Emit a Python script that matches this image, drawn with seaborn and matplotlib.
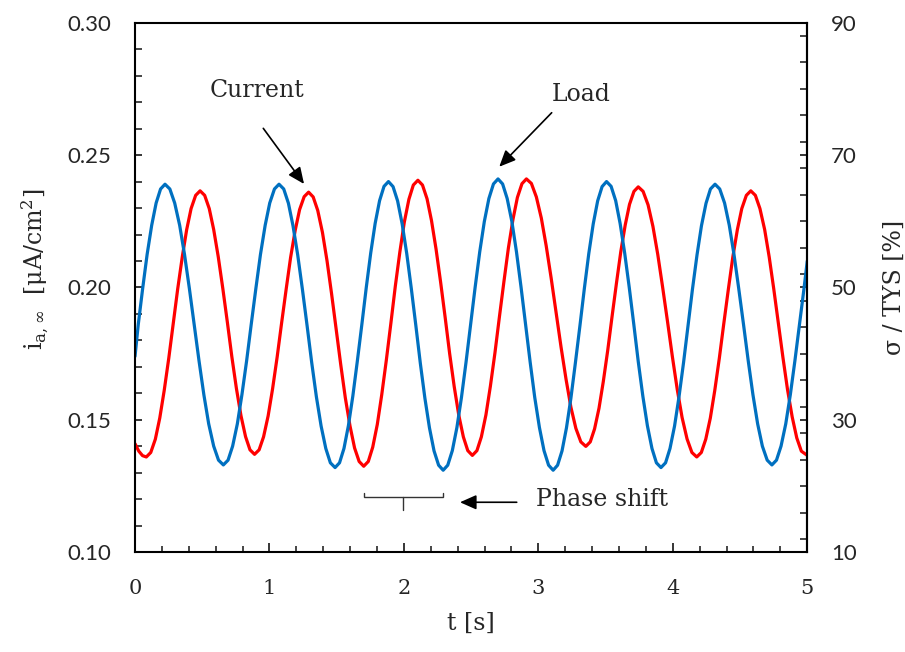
import matplotlib
matplotlib.use("Agg")
import matplotlib.pyplot as plt
from matplotlib.ticker import MultipleLocator, FixedLocator
import pandas as pd
import seaborn as sns

# ---------------- data ----------------
# Load signal (blue), plotted in the left-axis units (linked to sigma/TYS by the right axis)
load_t = [0.000, 0.024, 0.057, 0.090, 0.124, 0.157, 0.190,
          0.223, 0.259, 0.295, 0.332, 0.368, 0.404, 0.440, 0.476, 0.512, 0.548, 0.585, 0.621,
          0.657, 0.692, 0.726, 0.761, 0.795, 0.830, 0.864, 0.899, 0.933, 0.968, 1.002, 1.037,
          1.071, 1.106, 1.141, 1.175, 1.210, 1.245, 1.280, 1.314, 1.349, 1.384, 1.419, 1.453,
          1.488, 1.521, 1.554, 1.587, 1.620, 1.653, 1.687, 1.720, 1.753, 1.786, 1.819, 1.852,
          1.885, 1.919, 1.953, 1.987, 2.021, 2.055, 2.089, 2.122, 2.156, 2.190, 2.224, 2.258,
          2.292, 2.326, 2.360, 2.394, 2.428, 2.462, 2.496, 2.530, 2.564, 2.598, 2.632, 2.666,
          2.700, 2.734, 2.768, 2.803, 2.837, 2.871, 2.905, 2.939, 2.973, 3.008, 3.042, 3.076,
          3.110, 3.143, 3.176, 3.209, 3.242, 3.275, 3.309, 3.342, 3.375, 3.408, 3.441, 3.474,
          3.507, 3.541, 3.575, 3.608, 3.642, 3.676, 3.710, 3.743, 3.777, 3.811, 3.845, 3.878,
          3.912, 3.946, 3.979, 4.013, 4.046, 4.080, 4.113, 4.146, 4.180, 4.213, 4.247, 4.280,
          4.314, 4.349, 4.385, 4.420, 4.455, 4.490, 4.526, 4.561, 4.596, 4.631, 4.666, 4.702,
          4.737, 4.771, 4.805, 4.840, 4.874, 4.908, 4.942, 4.976, 5.000]
load_i = [0.174, 0.186, 0.1997, 0.2125, 0.2235, 0.2319, 0.2372,
          0.239, 0.2372, 0.2319, 0.2235, 0.2125, 0.1997, 0.186, 0.1723, 0.1595, 0.1485, 0.1401, 0.1348,
          0.133, 0.1348, 0.1401, 0.1485, 0.1595, 0.1723, 0.186, 0.1997, 0.2125, 0.2235, 0.2319, 0.2372,
          0.239, 0.2372, 0.2318, 0.2233, 0.2123, 0.1993, 0.1855, 0.1717, 0.1587, 0.1477, 0.1392, 0.1338,
          0.132, 0.1338, 0.1392, 0.1478, 0.159, 0.172, 0.186, 0.200, 0.213, 0.2242, 0.2328, 0.2382,
          0.240, 0.2381, 0.2327, 0.224, 0.2128, 0.1996, 0.1855, 0.1714, 0.1582, 0.147, 0.1383, 0.1329,
          0.131, 0.1329, 0.1384, 0.1471, 0.1585, 0.1718, 0.186, 0.2002, 0.2135, 0.2249, 0.2336, 0.2391,
          0.241, 0.2391, 0.2336, 0.2249, 0.2135, 0.2002, 0.186, 0.1718, 0.1585, 0.1471, 0.1384, 0.1329,
          0.131, 0.1329, 0.1383, 0.147, 0.1582, 0.1714, 0.1855, 0.1996, 0.2128, 0.224, 0.2327, 0.2381,
          0.240, 0.2382, 0.2328, 0.2242, 0.213, 0.200, 0.186, 0.172, 0.159, 0.1478, 0.1392, 0.1338,
          0.132, 0.1338, 0.1392, 0.1477, 0.1587, 0.1717, 0.1855, 0.1993, 0.2123, 0.2233, 0.2318, 0.2372,
          0.239, 0.2372, 0.2319, 0.2235, 0.2125, 0.1997, 0.186, 0.1723, 0.1595, 0.1485, 0.1401, 0.1348,
          0.133, 0.1348, 0.1401, 0.1485, 0.1595, 0.1723, 0.186, 0.1997, 0.210]

# Current signal (red), i_a,inf in uA/cm^2
current_t = [0.000, 0.028, 0.056,
             0.084, 0.117, 0.151, 0.184, 0.217, 0.251, 0.284, 0.317, 0.351, 0.384, 0.417, 0.451,
             0.484, 0.518, 0.552, 0.585, 0.619, 0.653, 0.687, 0.720, 0.754, 0.788, 0.822, 0.855,
             0.889, 0.923, 0.956, 0.990, 1.023, 1.057, 1.090, 1.124, 1.157, 1.191, 1.224, 1.258,
             1.291, 1.325, 1.359, 1.394, 1.428, 1.462, 1.496, 1.530, 1.564, 1.599, 1.633, 1.667,
             1.701, 1.735, 1.768, 1.802, 1.835, 1.869, 1.903, 1.936, 1.970, 2.003, 2.037, 2.070,
             2.104, 2.138, 2.172, 2.205, 2.239, 2.273, 2.307, 2.340, 2.374, 2.408, 2.442, 2.475,
             2.509, 2.543, 2.576, 2.610, 2.643, 2.677, 2.710, 2.744, 2.777, 2.811, 2.844, 2.878,
             2.911, 2.948, 2.985, 3.022, 3.058, 3.095, 3.132, 3.169, 3.206, 3.242, 3.279, 3.316,
             3.353, 3.386, 3.418, 3.451, 3.483, 3.516, 3.548, 3.581, 3.613, 3.646, 3.678, 3.711,
             3.743, 3.779, 3.816, 3.852, 3.888, 3.924, 3.961, 3.997, 4.033, 4.069, 4.106, 4.142,
             4.178, 4.212, 4.245, 4.279, 4.312, 4.346, 4.379, 4.413, 4.446, 4.480, 4.513, 4.547,
             4.580, 4.614, 4.648, 4.683, 4.717, 4.751, 4.785, 4.819, 4.853, 4.888, 4.922, 4.956,
             5.000]
current_i = [0.141, 0.1382, 0.1365,
             0.136, 0.1377, 0.1427, 0.1507, 0.1611, 0.1733, 0.1863, 0.1993, 0.2114, 0.2218, 0.2298, 0.2348,
             0.2365, 0.2348, 0.2298, 0.2219, 0.2116, 0.1996, 0.1868, 0.1739, 0.1619, 0.1516, 0.1437, 0.1387,
             0.137, 0.1387, 0.1436, 0.1515, 0.1617, 0.1737, 0.1865, 0.1993, 0.2113, 0.2215, 0.2294, 0.2343,
             0.236, 0.2342, 0.2291, 0.2208, 0.2101, 0.1976, 0.1843, 0.1709, 0.1584, 0.1477, 0.1394, 0.1343,
             0.1325, 0.1343, 0.1397, 0.1483, 0.1595, 0.1725, 0.1865, 0.2005, 0.2135, 0.2247, 0.2333, 0.2387,
             0.2405, 0.2387, 0.2335, 0.2253, 0.2145, 0.202, 0.1886, 0.1751, 0.1626, 0.1518, 0.1436, 0.1384,
             0.1366, 0.1384, 0.1436, 0.1519, 0.1627, 0.1753, 0.1888, 0.2023, 0.2149, 0.2257, 0.234, 0.2392,
             0.241, 0.2393, 0.2342, 0.2262, 0.2158, 0.2036, 0.1905, 0.1774, 0.1653, 0.1548, 0.1468, 0.1417,
             0.140, 0.1417, 0.1466, 0.1544, 0.1645, 0.1763, 0.189, 0.2017, 0.2135, 0.2236, 0.2314, 0.2363,
             0.238, 0.2363, 0.2312, 0.2231, 0.2125, 0.2002, 0.187, 0.1738, 0.1615, 0.1509, 0.1428, 0.1377,
             0.136, 0.1377, 0.1427, 0.1507, 0.1611, 0.1733, 0.1863, 0.1993, 0.2114, 0.2218, 0.2298, 0.2348,
             0.2365, 0.2348, 0.2298, 0.2219, 0.2115, 0.1994, 0.1865, 0.1736, 0.1615, 0.1511, 0.1432, 0.1382,
             0.1366]

x_ticks = [0, 1, 2, 3, 4, 5]
left_ticks = [0.10, 0.15, 0.20, 0.25, 0.30]
left_tick_labels = ["0.10", "0.15", "0.20", "0.25", "0.30"]
right_ticks = [10, 30, 50, 70, 90]

# ---------------- style ----------------
sns.set_style("white")
SERIF = "DejaVu Serif"
SANS = ["Lato", "Open Sans", "DejaVu Sans"]
plt.rcParams["font.family"] = [SERIF, "DejaVu Sans"]
plt.rcParams["mathtext.fontset"] = "custom"
plt.rcParams["mathtext.rm"] = SERIF
plt.rcParams["mathtext.it"] = SERIF + ":italic"

RED = "#FF0000"
BLUE = "#0070C0"

fig = plt.figure(figsize=(9.05, 6.52), dpi=100)
ax = fig.add_axes([0.1492, 0.1529, 0.7428, 0.8123])

df_cur = pd.DataFrame({"t": current_t, "i": current_i})
df_load = pd.DataFrame({"t": load_t, "i": load_i})
sns.lineplot(data=df_cur, x="t", y="i", ax=ax, color=RED, lw=2.3, estimator=None)
sns.lineplot(data=df_load, x="t", y="i", ax=ax, color=BLUE, lw=2.3, estimator=None)

ax.set_xlim(0, 5)
ax.set_ylim(0.10, 0.30)

for s in ax.spines.values():
    s.set_visible(True)
    s.set_color("black")
    s.set_linewidth(1.5)

ax.xaxis.set_major_locator(FixedLocator(x_ticks))
ax.xaxis.set_minor_locator(MultipleLocator(0.2))
ax.yaxis.set_major_locator(FixedLocator(left_ticks))
ax.yaxis.set_minor_locator(MultipleLocator(0.01))
ax.set_yticklabels(left_tick_labels)
ax.set_xticklabels([str(v) for v in x_ticks])

ax.tick_params(axis="x", which="major", direction="in", length=6.5, width=1.3,
               bottom=True, top=False, pad=19, labelsize=15)
ax.tick_params(axis="x", which="minor", direction="in", length=4, width=1.2,
               bottom=True, top=False)
ax.tick_params(axis="y", which="major", direction="in", length=5, width=1.3,
               left=True, right=False, pad=17, labelsize=16)
ax.tick_params(axis="y", which="minor", direction="in", length=5, width=1.2,
               left=True, right=False)

# secondary (load) axis
def to_pct(y):
    return 10 + (y - 0.10) * 400.0

def to_cur(p):
    return 0.10 + (p - 10) / 400.0

sec = ax.secondary_yaxis("right", functions=(to_pct, to_cur))
sec.yaxis.set_major_locator(FixedLocator(right_ticks))
sec.yaxis.set_minor_locator(MultipleLocator(4))
sec.tick_params(axis="y", which="major", direction="in", length=5, width=1.3,
                pad=17, labelsize=16)
sec.tick_params(axis="y", which="minor", direction="in", length=5, width=1.2)
sec.spines["right"].set_linewidth(1.5)

ax.set_xlabel("t [s]", fontsize=17, family=SERIF)
ax.xaxis.set_label_coords(0.5, -0.112)
ax.set_ylabel(r"i$_{\mathregular{a,\infty}}$  [μA/cm$^{\mathregular{2}}$]",
              fontsize=17, family=SERIF)
ax.yaxis.set_label_coords(-0.125, 0.535)
sec.set_ylabel("σ / TYS [%]", fontsize=17, family=SERIF, rotation=90)
sec.yaxis.set_label_coords(1.112, 0.5, transform=ax.transAxes)

# ---------------- annotations ----------------
arrow_kw = dict(arrowstyle="-|>,head_length=0.45,head_width=0.2",
                mutation_scale=22, color="black", lw=1.2, shrinkA=0, shrinkB=0)
ax.text(0.905, 0.2718, "Current", ha="center", va="baseline", fontsize=17, family=SERIF)
ax.annotate("", xy=(1.257, 0.2391), xytext=(0.954, 0.2601), arrowprops=arrow_kw)
ax.text(3.318, 0.2705, "Load", ha="center", va="baseline", fontsize=17, family=SERIF)
ax.annotate("", xy=(2.709, 0.2456), xytext=(3.099, 0.2660), arrowprops=arrow_kw)

ax.text(2.982, 0.1175, "Phase shift", ha="left", va="baseline", fontsize=17, family=SERIF)
ax.annotate("", xy=(2.417, 0.1189), xytext=(2.839, 0.1189), arrowprops=arrow_kw)
br_x = [1.703, 1.703, 2.288, 2.288]
br_y = [0.1223, 0.1208, 0.1208, 0.1223]
ax.plot(br_x, br_y, color="#333333", lw=1.0, solid_joinstyle="miter")
ax.plot([1.995, 1.995], [0.1208, 0.1160], color="#333333", lw=1.0)

# sans-serif tick labels on both y axes, serif on x
fig.canvas.draw()
for lbl in ax.get_yticklabels() + sec.get_yticklabels():
    lbl.set_family(SANS)
    lbl.set_fontsize(16)
for lbl in ax.get_xticklabels():
    lbl.set_family(SERIF)

fig.savefig("out.png", dpi=100)
